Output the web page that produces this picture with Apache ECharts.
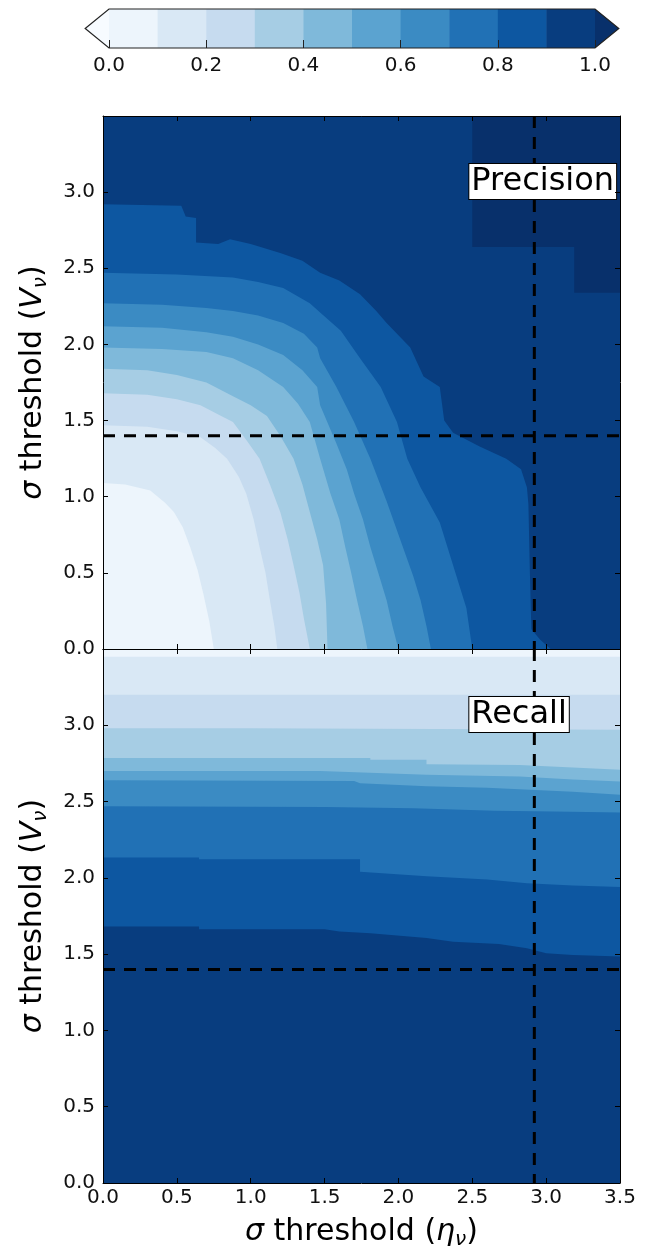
<!DOCTYPE html>
<html><head><meta charset="utf-8">
<script src="https://cdn.jsdelivr.net/npm/echarts@6/dist/echarts.min.js"></script>
<style>html,body{margin:0;padding:0;background:#fff}#c{width:651px;height:1254px}</style>
</head><body><div id="c"></div>
<script>
// ---------- data ----------
const colorbarLevels = [0.0,0.1,0.2,0.3,0.4,0.5,0.6,0.7,0.8,0.9,1.0];
const bandColors = ['#edf5fc','#d9e8f5','#c6dbef','#a6cde4','#7fb9da','#5ba3d0','#3b8bc3','#2171b5','#0d57a1','#083d7f'];
const underColor = '#f7fbff';
const overColor = '#08306b';

// Precision: contour lines (value >= level lies up/right of each line), [eta, V]
const precision_01 = [[0,1.09],[0.15,1.08],[0.32,1.04],[0.42,0.96],[0.48,0.90],[0.54,0.80],[0.59,0.67],[0.64,0.52],[0.68,0.36],[0.72,0.18],[0.75,0]];
const precision_02 = [[0,1.47],[0.3,1.46],[0.5,1.43],[0.66,1.39],[0.76,1.32],[0.84,1.25],[0.92,1.13],[0.97,1.02],[1.02,0.85],[1.06,0.67],[1.10,0.50],[1.13,0.32],[1.16,0.15],[1.18,0]];
const precision_03 = [[0,1.68],[0.3,1.67],[0.5,1.64],[0.66,1.60],[0.80,1.53],[0.88,1.49],[0.98,1.36],[1.06,1.25],[1.13,1.08],[1.20,0.90],[1.25,0.72],[1.29,0.55],[1.33,0.37],[1.36,0.20],[1.40,0]];
const precision_04 = [[0,1.84],[0.3,1.83],[0.5,1.80],[0.7,1.75],[0.88,1.66],[1.0,1.60],[1.11,1.53],[1.20,1.40],[1.29,1.25],[1.35,1.08],[1.40,0.90],[1.45,0.72],[1.49,0.55],[1.51,0.30],[1.52,0]];
const precision_05 = [[0,1.98],[0.4,1.97],[0.7,1.95],[0.88,1.91],[1.05,1.83],[1.22,1.72],[1.32,1.61],[1.40,1.49],[1.47,1.25],[1.54,1.02],[1.60,0.85],[1.64,0.67],[1.68,0.50],[1.72,0.32],[1.76,0.15],[1.79,0]];
const precision_06 = [[0,2.12],[0.4,2.11],[0.7,2.08],[0.88,2.05],[1.05,2.0],[1.22,1.93],[1.35,1.83],[1.45,1.72],[1.47,1.60],[1.58,1.35],[1.65,1.18],[1.70,1.02],[1.76,0.85],[1.81,0.67],[1.87,0.48],[1.92,0.32],[1.96,0.15],[2.00,0]];
const precision_07 = [[0,2.27],[0.4,2.26],[0.7,2.24],[0.88,2.22],[1.05,2.19],[1.22,2.14],[1.36,2.07],[1.45,1.98],[1.47,1.91],[1.58,1.72],[1.70,1.49],[1.81,1.25],[1.92,0.97],[2.03,0.67],[2.10,0.48],[2.15,0.32],[2.19,0.15],[2.22,0]];
const precision_08 = [[0,2.47],[0.5,2.46],[0.88,2.44],[1.05,2.41],[1.22,2.37],[1.40,2.27],[1.47,2.21],[1.61,2.09],[1.74,1.91],[1.88,1.72],[1.99,1.49],[2.06,1.25],[2.15,1.06],[2.28,0.83],[2.37,0.55],[2.46,0.27],[2.50,0]];
const precision_09 = [[0,2.92],[0.53,2.91],[0.56,2.84],[0.63,2.83],[0.63,2.67],[0.78,2.66],[0.86,2.69],[1.0,2.66],[1.2,2.60],[1.35,2.55],[1.47,2.47],[1.6,2.42],[1.74,2.33],[1.85,2.22],[1.92,2.14],[2.0,2.06],[2.08,1.98],[2.17,1.79],[2.28,1.72],[2.31,1.50],[2.37,1.42],[2.55,1.33],[2.73,1.25],[2.83,1.18],[2.87,1.06],[2.88,0.95],[2.89,0.50],[2.90,0.13],[2.96,0.06],[3.03,0]];
const precision_10 = [[2.50,3.5],[2.50,2.64],[3.19,2.64],[3.19,2.34],[3.5,2.34],[3.5,3.5]];

// Recall: contour lines (value >= level lies below each line), [eta, V]
const recall_01 = [[0,3.45],[3.5,3.45]];
const recall_02 = [[0,3.20],[3.5,3.20]];
const recall_03 = [[0,2.98],[1.0,2.98],[3.5,2.97]];
const recall_04 = [[0,2.785],[1.81,2.785],[1.81,2.774],[2.19,2.774],[2.19,2.745],[2.82,2.74],[3.18,2.724],[3.5,2.708]];
const recall_05 = [[0,2.70],[1.47,2.70],[2.19,2.675],[2.82,2.665],[3.18,2.645],[3.5,2.632]];
const recall_06 = [[0,2.64],[1.70,2.635],[1.74,2.62],[2.19,2.60],[2.60,2.59],[3.18,2.565],[3.5,2.545]];
const recall_07 = [[0,2.47],[1.5,2.465],[2.1,2.457],[2.65,2.44],[3.05,2.435],[3.5,2.428]];
const recall_08 = [[0,2.133],[0.65,2.133],[0.65,2.122],[1.74,2.122],[1.74,2.04],[2.19,2.01],[2.6,1.99],[2.87,1.965],[3.18,1.95],[3.5,1.94]];
const recall_09 = [[0,1.681],[0.65,1.681],[0.65,1.663],[1.5,1.663],[1.6,1.648],[1.81,1.637],[2.19,1.605],[2.37,1.582],[2.68,1.567],[2.87,1.539],[3.0,1.506],[3.18,1.495],[3.5,1.484]];

const etaThreshold = 2.92;
const vThreshold = 1.4;
const axisMin = 0, axisMax = 3.5, axisStep = 0.5;
const panelTitles = ['Precision','Recall'];

// ---------- build ----------
const FONT = 'DejaVu Sans';
const precisionLines = [precision_01,precision_02,precision_03,precision_04,precision_05,precision_06,precision_07,precision_08,precision_09];
const recallLines = [recall_01,recall_02,recall_03,recall_04,recall_05,recall_06,recall_07,recall_08,recall_09];
const full = [[axisMin,axisMin],[axisMax,axisMin],[axisMax,axisMax],[axisMin,axisMax]];

const precPolys = [full], precCols = [bandColors[0]];
precisionLines.forEach((ln,k)=>{ precPolys.push(ln.concat([[axisMax,axisMin],[axisMax,axisMax],[axisMin,axisMax]])); precCols.push(bandColors[k+1]); });
precPolys.push(precision_10); precCols.push(overColor);

const recPolys = [full], recCols = [bandColors[0]];
recallLines.forEach((ln,k)=>{ recPolys.push([[axisMin,axisMin]].concat(ln).concat([[axisMax,axisMin]])); recCols.push(bandColors[k+1]); });

function regionSeries(polys, cols, ai){
  return {type:'custom', xAxisIndex:ai, yAxisIndex:ai, silent:true, z:1, clip:true,
    data: polys.map((p,i)=>[i]),
    renderItem:(params, api)=>({type:'polygon',
      shape:{points: polys[params.dataIndex].map(pt=>api.coord(pt))},
      style:{fill: cols[params.dataIndex]}})
  };
}
function dashSeries(ai, pts){
  return {type:'line', xAxisIndex:ai, yAxisIndex:ai, data:pts, symbol:'none', silent:true, z:5,
    lineStyle:{color:'#000', width:3, type:[12,9]}};
}
function labelSeries(ai, txt){
  return {type:'custom', xAxisIndex:ai, yAxisIndex:ai, silent:true, z:8, data:[[0]],
    renderItem:(params, api)=>{ const p = api.coord([2.48, 3.07]);
      return {type:'text', x:p[0], y:p[1], style:{text:txt, fontSize:32, fontFamily:FONT, fill:'#000',
        align:'left', verticalAlign:'middle', backgroundColor:'#fff', borderColor:'#000', borderWidth:1,
        padding:[3,2,0,2]}}; }};
}
const tickLabel = {fontSize:20, fontFamily:FONT, color:'#111'};
function xAx(gi, pos, labels, name){
  const a = {type:'value', gridIndex:gi, position:pos, min:axisMin, max:axisMax, interval:axisStep, z:10,
    axisLine:{show:true, onZero:false, lineStyle:{color:'#000', width:1}},
    axisTick:{show:true, inside:true, length:5, lineStyle:{color:'#000', width:1}},
    axisLabel:Object.assign({show:labels, margin:5, formatter:v=>v.toFixed(1)}, tickLabel),
    splitLine:{show:false}};
  if(name){ a.name = name; a.nameLocation='middle'; a.nameGap=31;
    a.nameTextStyle={fontSize:30, fontFamily:FONT, color:'#000',
      rich:{n:{fontSize:30, fontFamily:FONT, lineHeight:36}, i:{fontSize:30, fontFamily:FONT, fontStyle:'italic', lineHeight:36},
            s:{fontSize:20, fontFamily:FONT, fontStyle:'italic', lineHeight:20, verticalAlign:'bottom'}}}; }
  return a;
}
function yAx(gi, pos, labels, name){
  const a = {type:'value', gridIndex:gi, position:pos, min:axisMin, max:axisMax, interval:axisStep, z:10,
    axisLine:{show:true, onZero:false, lineStyle:{color:'#000', width:1}},
    axisTick:{show:true, inside:true, length:5, lineStyle:{color:'#000', width:1}},
    axisLabel:Object.assign({show:labels, margin:8, formatter:v=> v>=axisMax ? '' : v.toFixed(1)}, tickLabel),
    splitLine:{show:false}};
  if(name){ a.name = name; a.nameLocation='middle'; a.nameGap=52; a.nameRotate=90;
    a.nameTextStyle={fontSize:30, fontFamily:FONT, color:'#000',
      rich:{n:{fontSize:30, fontFamily:FONT, lineHeight:36}, i:{fontSize:30, fontFamily:FONT, fontStyle:'italic', lineHeight:36},
            s:{fontSize:20, fontFamily:FONT, fontStyle:'italic', lineHeight:20, verticalAlign:'bottom'}}}; }
  return a;
}
const yName = '{i|σ}{n| threshold (}{i|V}{s|ν}{n|)}';
const xName = '{i|σ}{n| threshold (}{i|η}{s|ν}{n|)}';

const cbSeries = {type:'custom', xAxisIndex:4, yAxisIndex:4, silent:true, z:1, data:[[0]],
  renderItem:(params, api)=>{
    const ext = 0.049; const ch = [];
    for(let i=0;i<colorbarLevels.length-1;i++){
      const a = api.coord([colorbarLevels[i],1]), b = api.coord([colorbarLevels[i+1],0]);
      ch.push({type:'polygon', shape:{points:[[a[0],a[1]],[b[0]+0.5,a[1]],[b[0]+0.5,b[1]],[a[0],b[1]]]}, style:{fill:bandColors[i]}});
    }
    const lo = colorbarLevels[0], hi = colorbarLevels[colorbarLevels.length-1];
    const L = [api.coord([lo-ext,0.5]), api.coord([lo,1]), api.coord([lo,0])];
    const R = [api.coord([hi+ext,0.5]), api.coord([hi,1]), api.coord([hi,0])];
    ch.push({type:'polygon', shape:{points:L}, style:{fill:underColor}});
    ch.push({type:'polygon', shape:{points:R}, style:{fill:overColor}});
    ch.push({type:'polygon', shape:{points:[L[0],L[1],R[1],R[0],R[2],L[2]]}, style:{fill:null, stroke:'#222', lineWidth:1.2}});
    return {type:'group', children:ch};
  }};

const option = {
  animation:false,
  backgroundColor:'#fff',
  grid:[
    {left:103, top:116, width:517, height:533},
    {left:103, top:649, width:517, height:534},
    {left:109, top:9, width:486, height:39}
  ],
  xAxis:[
    xAx(0,'bottom',false), xAx(0,'top',false),
    xAx(1,'bottom',true,xName), xAx(1,'top',false),
    {type:'value', gridIndex:2, min:colorbarLevels[0], max:colorbarLevels[colorbarLevels.length-1], interval:0.2, z:10,
      axisLine:{show:false}, axisTick:{show:true, inside:true, length:8, lineStyle:{color:'#222', width:1}},
      axisLabel:Object.assign({margin:8, formatter:v=>v.toFixed(1)}, tickLabel), splitLine:{show:false}}
  ],
  yAxis:[
    yAx(0,'left',true,yName), yAx(0,'right',false),
    yAx(1,'left',true,yName), yAx(1,'right',false),
    {type:'value', gridIndex:2, min:0, max:1, show:false}
  ],
  series:[
    regionSeries(precPolys, precCols, 0),
    regionSeries(recPolys, recCols, 2),
    dashSeries(0, [[etaThreshold,axisMax],[etaThreshold,axisMin]]),
    dashSeries(0, [[axisMin,vThreshold],[axisMax,vThreshold]]),
    dashSeries(2, [[etaThreshold,axisMax],[etaThreshold,axisMin]]),
    dashSeries(2, [[axisMin,vThreshold],[axisMax,vThreshold]]),
    labelSeries(0, panelTitles[0]),
    labelSeries(2, panelTitles[1]),
    cbSeries
  ]
};
const chart = echarts.init(document.getElementById('c'), null, {renderer:'canvas'});
chart.setOption(option);
</script></body></html>
